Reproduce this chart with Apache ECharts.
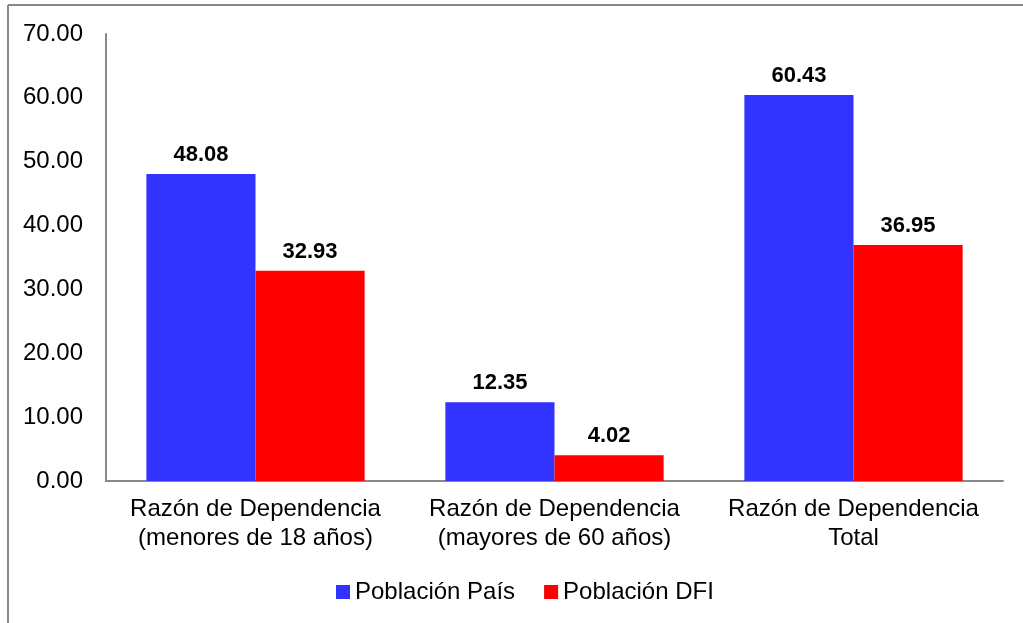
<!DOCTYPE html>
<html>
<head>
<meta charset="utf-8">
<script src="https://cdn.jsdelivr.net/npm/echarts@6/dist/echarts.min.js"></script>
<style>
html, body { margin: 0; padding: 0; background: #fff; }
#chart { width: 1023px; height: 623px; }
</style>
</head>
<body>
<div id="chart"></div>
<script>
var categories = ['Razón de Dependencia\n(menores de 18 años)', 'Razón de Dependencia\n(mayores de 60 años)', 'Razón de Dependencia\nTotal'];
var seriesNames = ['Población País', 'Población DFI'];
var paisValues = [48.08, 12.35, 60.43];
var dfiValues = [32.93, 4.02, 36.95];

var font = '"Liberation Sans", Arial, sans-serif';
var myChart = echarts.init(document.getElementById('chart'), null, {renderer: 'canvas'});

var labelStyle = {
    show: true,
    position: 'top',
    distance: 8,
    fontFamily: font,
    fontSize: 22,
    fontWeight: 'bold',
    color: '#000',
    formatter: function (p) { return p.value.toFixed(2); }
};

var option = {
    animation: false,
    backgroundColor: '#fff',
    graphic: [
        { type: 'line', shape: { x1: 8, y1: 5, x2: 8, y2: 623 }, style: { stroke: '#888', lineWidth: 2 } },
        { type: 'line', shape: { x1: 8, y1: 5, x2: 1023, y2: 5 }, style: { stroke: '#888', lineWidth: 2 } }
    ],
    grid: { left: 106, right: 20, top: 34, bottom: 142, containLabel: false },
    legend: {
        top: 575,
        left: 331,
        itemWidth: 14,
        itemHeight: 14,
        itemGap: 29,
        icon: 'rect',
        textStyle: { fontFamily: font, fontSize: 24, color: '#000' },
        data: seriesNames
    },
    xAxis: {
        type: 'category',
        data: categories,
        axisLine: { lineStyle: { color: '#888', width: 2 } },
        axisTick: { show: false },
        axisLabel: { fontFamily: font, fontSize: 24, color: '#000', lineHeight: 29, margin: 14, interval: 0 }
    },
    yAxis: {
        type: 'value',
        min: 0,
        max: 70,
        interval: 10,
        splitLine: { show: false },
        axisLine: { show: true, lineStyle: { color: '#888', width: 2 } },
        axisTick: { show: false },
        axisLabel: {
            fontFamily: font, fontSize: 24, color: '#000', margin: 23,
            formatter: function (v) { return v.toFixed(2); }
        }
    },
    series: [
        {
            name: seriesNames[0],
            type: 'bar',
            data: paisValues,
            barGap: '0%',
            barCategoryGap: '27%',
            itemStyle: { color: '#3333FF' },
            label: labelStyle
        },
        {
            name: seriesNames[1],
            type: 'bar',
            data: dfiValues,
            barGap: '0%',
            barCategoryGap: '27%',
            itemStyle: { color: '#FF0000' },
            label: labelStyle
        }
    ]
};

myChart.setOption(option);
</script>
</body>
</html>
